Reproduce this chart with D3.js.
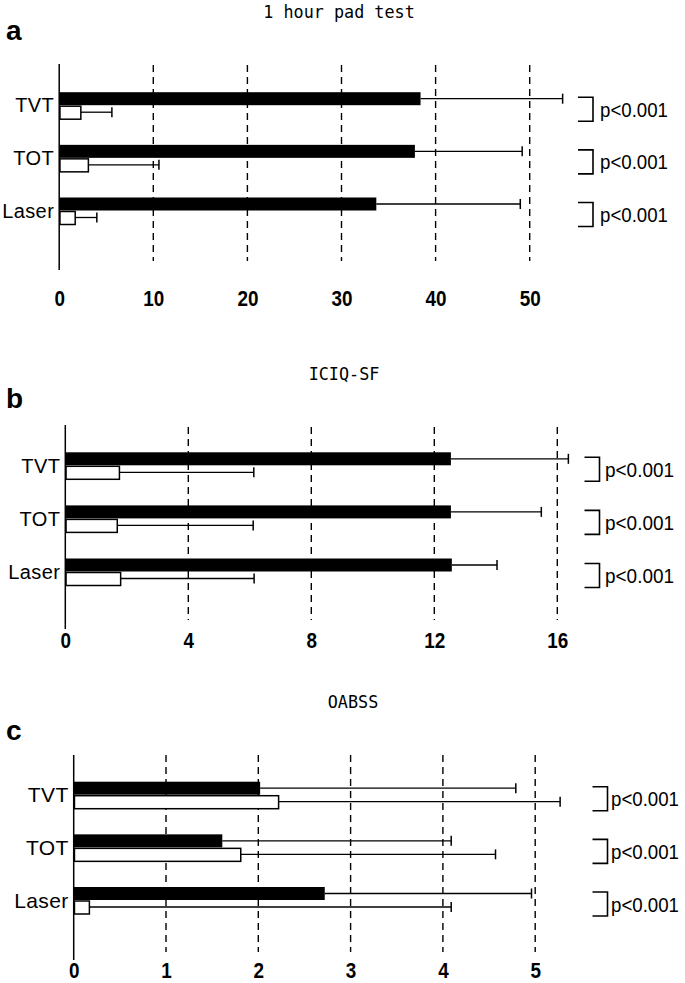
<!DOCTYPE html>
<html>
<head>
<meta charset="utf-8">
<script src="https://cdn.jsdelivr.net/npm/d3@7"></script>
<style>
  body { margin: 0; background: #fff; }
  svg { display: block; }
</style>
</head>
<body>
<div id="chart"></div>
<script>
// Values (mean and SD, before = black, after = white)
const categories = ['TVT', 'TOT', 'Laser'];
const pLabels = ['p<0.001', 'p<0.001', 'p<0.001'];

const padBefore = [38.4, 37.8, 33.7];
const padBeforeSd = [15.1, 11.4, 15.3];
const padAfter = [2.3, 3.1, 1.7];
const padAfterSd = [3.3, 7.5, 2.3];
const padTicks = [0, 10, 20, 30, 40, 50];

const iciqBefore = [12.54, 12.54, 12.57];
const iciqBeforeSd = [3.82, 2.94, 1.47];
const iciqAfter = [1.76, 1.69, 1.80];
const iciqAfterSd = [4.37, 4.42, 4.34];
const iciqTicks = [0, 4, 8, 12, 16];

const oabssBefore = [2.02, 1.61, 2.72];
const oabssBeforeSd = [2.77, 2.48, 2.24];
const oabssAfter = [2.22, 1.81, 0.17];
const oabssAfterSd = [3.05, 2.76, 3.92];
const oabssTicks = [0, 1, 2, 3, 4, 5];

// Panel layout (pixel positions only)
const panels = [
    {
        letter: 'a', title: '1 hour pad test', titleX: 339, titleY: 18, letterY: 40,
        before: padBefore, beforeSd: padBeforeSd, after: padAfter, afterSd: padAfterSd,
        ticks: padTicks, x0: 59.2, x1: 529.7,
        axisTop: 64, axisBottom: 270, dashTop: 65, dashBottom: 261,
        cTop: 105.2, cBottom: 210.5, tickY: 306,
        bracketX: 578, textX: 600, textW: 68, labelSize: 20, pSize: 21
    },
    {
        letter: 'b', title: 'ICIQ-SF', titleX: 344, titleY: 380, letterY: 408,
        before: iciqBefore, beforeSd: iciqBeforeSd, after: iciqAfter, afterSd: iciqAfterSd,
        ticks: iciqTicks, x0: 65.3, x1: 557.3,
        axisTop: 425, axisBottom: 629, dashTop: 427, dashBottom: 620,
        cTop: 465.3, cBottom: 571.5, tickY: 648,
        bracketX: 584.5, textX: 605, textW: 69, labelSize: 20, pSize: 21
    },
    {
        letter: 'c', title: 'OABSS', titleX: 353, titleY: 708, letterY: 740,
        before: oabssBefore, beforeSd: oabssBeforeSd, after: oabssAfter, afterSd: oabssAfterSd,
        ticks: oabssTicks, x0: 73.7, x1: 535.2,
        axisTop: 755, axisBottom: 960, dashTop: 755, dashBottom: 952,
        cTop: 794.7, cBottom: 900, tickY: 978,
        bracketX: 592.5, textX: 611, textW: 68, labelSize: 21, pSize: 20
    }
];

const svg = d3.select('#chart')
    .append('svg')
    .attr('width', 685)
    .attr('height', 983);

panels.forEach(p => drawPanel(p));

function drawPanel(p) {
    const g = svg.append('g');
    const xMax = p.ticks[p.ticks.length - 1];

    const x = d3.scaleLinear()
        .domain([0, xMax])
        .range([p.x0, p.x1]);

    // y position = centre of each group (line between black and white bar)
    const y = d3.scalePoint()
        .domain(categories)
        .range([p.cTop, p.cBottom]);

    const barH = 13;

    // Title and panel letter
    g.append('text')
        .attr('x', p.titleX)
        .attr('y', p.titleY)
        .attr('text-anchor', 'middle')
        .style('font-family', '"DejaVu Sans Mono", monospace')
        .style('font-size', '18px')
        .attr('textLength', p.title.length * 10.1)
        .attr('lengthAdjust', 'spacingAndGlyphs')
        .text(p.title);

    g.append('text')
        .attr('x', 6)
        .attr('y', p.letterY)
        .style('font-family', '"Liberation Sans", Arial, sans-serif')
        .style('font-weight', 'bold')
        .style('font-size', '28px')
        .text(p.letter);

    // Dashed grid lines
    g.selectAll('.grid')
        .data(p.ticks.filter(t => t > 0))
        .enter()
        .append('line')
        .attr('x1', d => x(d))
        .attr('x2', d => x(d))
        .attr('y1', p.dashTop)
        .attr('y2', p.dashBottom)
        .attr('stroke', '#000')
        .attr('stroke-width', 1.4)
        .attr('stroke-dasharray', '7,5');

    // Tick labels (no axis line at bottom)
    const xAxis = d3.axisBottom(x)
        .tickValues(p.ticks)
        .tickSize(0)
        .tickPadding(0)
        .tickFormat(d3.format('d'));
    const ax = g.append('g')
        .attr('transform', `translate(0,${p.tickY})`)
        .call(xAxis);
    ax.select('.domain').remove();
    ax.selectAll('text')
        .attr('dy', 0)
        .attr('y', 0)
        .attr('textLength', d => String(d).length * 10.5)
        .attr('lengthAdjust', 'spacingAndGlyphs')
        .style('font-family', '"Liberation Sans", Arial, sans-serif')
        .style('font-weight', 'bold')
        .style('font-size', '22px')
        .style('fill', '#000');

    // Y axis line
    g.append('line')
        .attr('x1', p.x0)
        .attr('x2', p.x0)
        .attr('y1', p.axisTop)
        .attr('y2', p.axisBottom)
        .attr('stroke', '#000')
        .attr('stroke-width', 1.5);

    // Category labels
    g.selectAll('.cat')
        .data(categories)
        .enter()
        .append('text')
        .attr('x', p.x0 - 5)
        .attr('y', d => y(d))
        .attr('dy', '0.36em')
        .attr('text-anchor', 'end')
        .style('font-family', '"Liberation Sans", Arial, sans-serif')
        .style('font-size', p.labelSize + 'px')
        .style('letter-spacing', '0.4px')
        .text(d => d);

    const rows = categories.map((c, i) => ({
        cat: c,
        before: p.before[i], beforeSd: p.beforeSd[i],
        after: p.after[i], afterSd: p.afterSd[i],
        pText: pLabels[i]
    }));

    // Error bars (drawn first so bars sit on top)
    const errs = [];
    rows.forEach(r => {
        errs.push({ cat: r.cat, v: r.before, sd: r.beforeSd, yc: y(r.cat) - barH / 2 });
        errs.push({ cat: r.cat, v: r.after, sd: r.afterSd, yc: y(r.cat) + barH / 2 + 0.5 });
    });
    g.selectAll('.err')
        .data(errs)
        .enter()
        .append('line')
        .attr('x1', d => x(d.v))
        .attr('x2', d => x(d.v + d.sd))
        .attr('y1', d => d.yc)
        .attr('y2', d => d.yc)
        .attr('stroke', '#000')
        .attr('stroke-width', 1.3);
    g.selectAll('.cap')
        .data(errs)
        .enter()
        .append('line')
        .attr('x1', d => x(d.v + d.sd))
        .attr('x2', d => x(d.v + d.sd))
        .attr('y1', d => d.yc - 5)
        .attr('y2', d => d.yc + 5)
        .attr('stroke', '#000')
        .attr('stroke-width', 1.5);

    // Before (black) bars
    g.selectAll('.bar-before')
        .data(rows)
        .enter()
        .append('rect')
        .attr('x', x(0))
        .attr('y', d => y(d.cat) - barH)
        .attr('width', d => x(d.before) - x(0))
        .attr('height', barH)
        .attr('fill', '#000');

    // After (white) bars
    g.selectAll('.bar-after')
        .data(rows)
        .enter()
        .append('rect')
        .attr('x', x(0) + 0.75)
        .attr('y', d => y(d.cat) + 1)
        .attr('width', d => x(d.after) - x(0) - 0.75)
        .attr('height', barH)
        .attr('fill', '#fff')
        .attr('stroke', '#000')
        .attr('stroke-width', 1.5);

    // Significance brackets
    g.selectAll('.bracket')
        .data(rows)
        .enter()
        .append('path')
        .attr('d', d => {
            const t = y(d.cat) - 8, b = y(d.cat) + 16, w = 15;
            return `M${p.bracketX},${t}H${p.bracketX + w}V${b}H${p.bracketX}`;
        })
        .attr('fill', 'none')
        .attr('stroke', '#000')
        .attr('stroke-width', 1.6);

    g.selectAll('.ptext')
        .data(rows)
        .enter()
        .append('text')
        .attr('x', p.textX)
        .attr('y', d => y(d.cat) + 11.5)
        .attr('textLength', p.textW)
        .attr('lengthAdjust', 'spacingAndGlyphs')
        .style('font-family', '"Liberation Sans", Arial, sans-serif')
        .style('font-size', p.pSize + 'px')
        .text(d => d.pText);
}
</script>
</body>
</html>
